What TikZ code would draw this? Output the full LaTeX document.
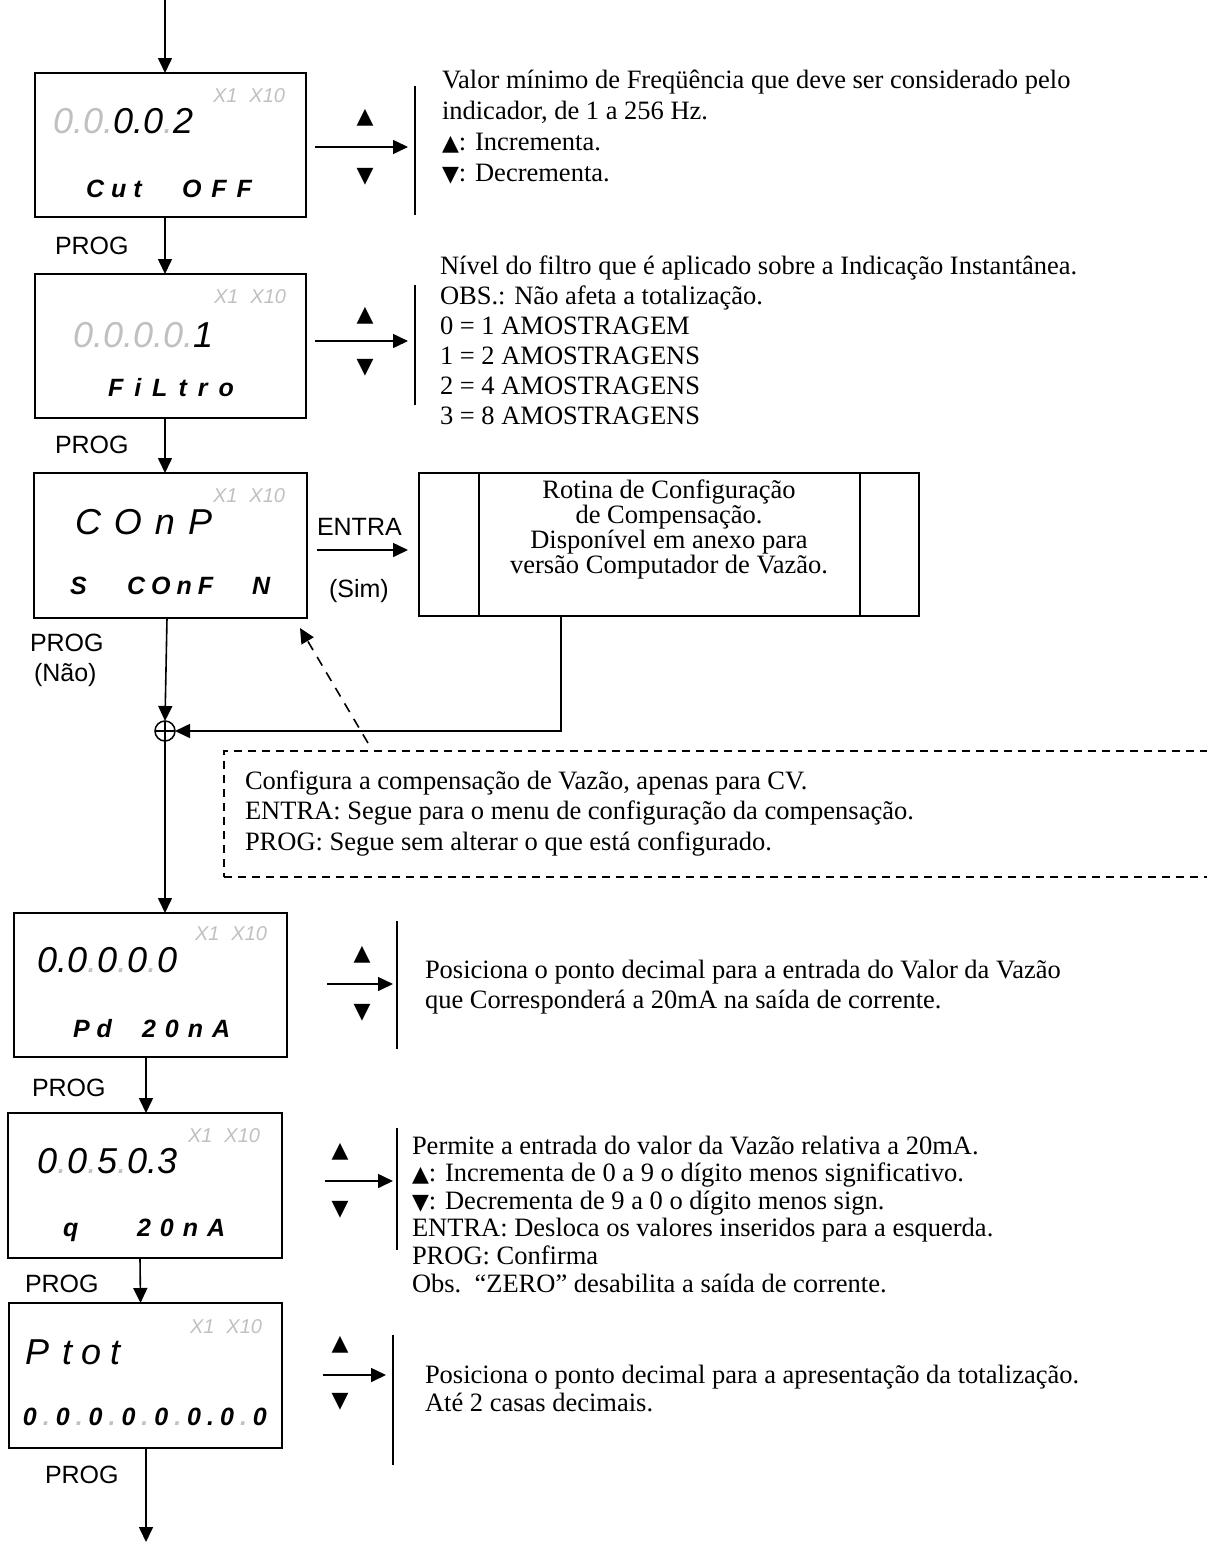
\documentclass[tikz,border=0pt]{standalone}
\usepackage{fontspec}
\setmainfont{Liberation Serif}
\setsansfont{Liberation Sans}
\newfontfamily\symf{DejaVu Sans}
\usetikzlibrary{arrows.meta}
\definecolor{lcdgray}{RGB}{192,192,192}
% letter spacing on the display texts
\newcommand\lsp[1][7]{\kern#1pt\relax}
% unlit decimal point
\newcommand\gd{\textcolor{lcdgray}{.}}
% small key triangles inside the notes
\newcommand\up{{\symf\fontsize{22}{22}\selectfont ▲}}
\newcommand\dn{{\symf\fontsize{22}{22}\selectfont ▼}}

\begin{document}
\begin{tikzpicture}[x=1pt,y=-1pt,
  every node/.style={inner sep=0pt, outer sep=0pt},
  lcdbox/.style={draw, line width=2pt, rectangle},
  subbox/.style={draw, line width=1.6pt, rectangle},
  arr/.style={line width=1.6pt, -{Triangle[length=15pt,width=14pt]}},
  wire/.style={line width=1.6pt},
  seg/.style={font=\sffamily\itshape\fontsize{36}{36}\selectfont, anchor=base west},
  mult/.style={font=\sffamily\itshape\fontsize{20}{20}\selectfont, text=lcdgray, anchor=base west},
  lbl/.style={font=\sffamily\bfseries\itshape\fontsize{25}{25}\selectfont, anchor=base west},
  key/.style={font=\sffamily\fontsize{25}{25}\selectfont, anchor=base west},
  note/.style={font=\fontsize{26.5}{#1}\selectfont, anchor=base west, align=left},
  tri/.style={font=\symf\fontsize{22}{22}\selectfont}]

\useasboundingbox (0,0) rectangle (1207,1542);
\clip (0,0) rectangle (1207,1542);

% ---------- display boxes ----------
\node[lcdbox, minimum width=271pt, minimum height=144pt] (b1) at (170,145) {};
\node[lcdbox, minimum width=271pt, minimum height=144pt] (b2) at (170,346) {};
\node[lcdbox, minimum width=273pt, minimum height=145pt] (b3) at (170.5,545.5) {};
\node[lcdbox, minimum width=273pt, minimum height=144pt] (b4) at (150.5,985) {};
\node[lcdbox, minimum width=274pt, minimum height=145pt] (b5) at (145,1185.5) {};
\node[lcdbox, minimum width=273pt, minimum height=145pt] (b6) at (145.5,1375.5) {};

% display contents
\node[seg] (d1) at (53,133) {\textcolor{lcdgray}{0.0.}0.0\gd 2};
\node[mult] (m1) at (213,102) {X1\kern12pt X10};
\node[lbl] (l1a) at (86,197) {C\lsp u\lsp t};
\node[lbl] (l1b) at (182,197) {O\lsp[10]F\lsp[10]F};

\node[seg] (d2) at (73,347) {\textcolor{lcdgray}{0.0.0.0.}1};
\node[mult] (m2) at (214,303) {X1\kern12pt X10};
\node[lbl] (l2) at (108,396) {F\lsp[11]i\lsp[11]L\lsp[11]t\lsp[11]r\lsp[11]o};

\node[seg] (d3) at (75,534) {C\lsp[13]O\lsp[13]n\lsp[13]P};
\node[mult] (m3) at (213,502) {X1\kern12pt X10};
\node[lbl] (l3a) at (70,594) {S};
\node[lbl] (l3b) at (127,594) {C\lsp[6]O\lsp[6]n\lsp[6]F};
\node[lbl] (l3c) at (252,594) {N};

\node[seg] (d4) at (37,972) {0.0\gd 0\gd 0\gd 0};
\node[mult] (m4) at (195,940) {X1\kern12pt X10};
\node[lbl] (l4a) at (73,1037) {P\lsp d};
\node[lbl] (l4b) at (142,1037) {2\lsp[9]0\lsp[9]n\lsp[9]A};

\node[seg] (d5) at (37,1173) {0\gd 0\gd 5\gd 0.3};
\node[mult] (m5) at (188,1142) {X1\kern12pt X10};
\node[lbl] (l5a) at (63,1236) {q};
\node[lbl] (l5b) at (137,1236) {2\lsp[9]0\lsp[9]n\lsp[9]A};

\node[seg] (d6) at (25,1364) {P\lsp[13]t\lsp[9]o\lsp[9]t};
\node[mult] (m6) at (190,1333) {X1\kern12pt X10};
\node[lbl] (l6) at (23,1425) {0\lsp[6]\gd\lsp[6]0\lsp[6]\gd\lsp[6]0\lsp[6]\gd\lsp[6]0\lsp[6]\gd\lsp[6]0\lsp[6]\gd\lsp[6]0\lsp[6].\lsp[6]0\lsp[6]\gd\lsp[6]0};

% ---------- compensation routine box ----------
\node[subbox, minimum width=500pt, minimum height=143pt] (sub) at (669,544.5) {};
\draw[wire] ([xshift=60pt]sub.north west) -- ([xshift=60pt]sub.south west);
\draw[wire] ([xshift=-59pt]sub.north east) -- ([xshift=-59pt]sub.south east);
\node[font=\fontsize{26.5}{25}\selectfont, align=center] (subtxt) at (669,529)
  {Rotina de Configuração\\de Compensação.\\Disponível em anexo para\\versão Computador de Vazão.};

% ---------- key labels ----------
\node[key] (p1) at (55,254) {PROG};
\node[key] (p2) at (55,453) {PROG};
\node[key] (p3) at (30,651) {PROG};
\node[key] (p3n) at (34,681) {(Não)};
\node[key] (en) at (317,535) {ENTRA};
\node[key] (sim) at (329,597) {(Sim)};
\node[key] (p4) at (32,1096) {PROG};
\node[key] (p5) at (25,1292) {PROG};
\node[key] (p6) at (45,1483) {PROG};

% ---------- main flow ----------
\coordinate (start) at (165,0);
\coordinate (finish) at (146,1542);
\node[draw, circle, line width=1.5pt, minimum size=20pt] (sum) at (165,731) {};
\draw[line width=1.2pt] (sum.north) -- (sum.south) (sum.west) -- (sum.east);

\draw[arr] (start) -- ([xshift=-5pt]b1.north);
\draw[arr] ([xshift=-5pt]b1.south) -- ([xshift=-5pt]b2.north);
\draw[arr] ([xshift=-5pt]b2.south) -- ([xshift=-5.5pt]b3.north);
\draw[arr] ([xshift=-3.5pt]b3.south) -- (sum.north);
\draw[arr] ([xshift=-108pt]sub.south) |- (sum.east);
\draw[arr] (sum.south) -- ([xshift=14.5pt]b4.north);
\draw[arr] ([xshift=-4.5pt]b4.south) -- ([xshift=1pt]b5.north);
\draw[arr] ([xshift=-5pt]b5.south) -- ([xshift=-5pt]b6.north);
\draw[arr] ([xshift=0.5pt]b6.south) -- (finish);

\coordinate (ea) at (317,550); \coordinate (eb) at (408,550);
\draw[arr] (ea) -- (eb);

% ---------- up/down keys and side notes ----------
% row 1
\node[tri] (u1) at (365,118) {▲};
\node[tri] (w1) at (365,177) {▼};
\coordinate (a1s) at (315,147); \coordinate (a1e) at (408,147);
\draw[arr] (a1s) -- (a1e);
\coordinate (v1t) at (415,86); \coordinate (v1b) at (415,215);
\draw[wire] (v1t) -- (v1b);
\node[note=31] (n1) at (442,181) {Valor mínimo de Freqüência que deve ser considerado pelo\\indicador, de 1 a 256 Hz.\\\up: Incrementa.\\\dn: Decrementa.};

% row 2
\node[tri] (u2) at (365,316) {▲};
\node[tri] (w2) at (365,368) {▼};
\coordinate (a2s) at (315,341); \coordinate (a2e) at (408,341);
\draw[arr] (a2s) -- (a2e);
\coordinate (v2t) at (415,285); \coordinate (v2b) at (415,405);
\draw[wire] (v2t) -- (v2b);
\node[note=30] (n2) at (440,424) {Nível do filtro que é aplicado sobre a Indicação Instantânea.\\OBS.: Não afeta a totalização.\\0 = 1 AMOSTRAGEM\\1 = 2 AMOSTRAGENS\\2 = 4 AMOSTRAGENS\\3 = 8 AMOSTRAGENS};

% dashed remark on the compensation choice
\node[draw, line width=1.6pt, dash pattern=on 8pt off 6pt, minimum width=1010pt, minimum height=126pt] (rem) at (729,814) {};
\draw[line width=1.6pt, dash pattern=on 10pt off 8pt, -{Triangle[length=15pt,width=14pt]}]
  ([xshift=144pt,yshift=8pt]rem.north west) -- ([xshift=-7pt,yshift=-10pt]b3.south east);
\node[note=30.5] (n3) at (245,850) {Configura a compensação de Vazão, apenas para CV.\\ENTRA: Segue para o menu de configuração da compensação.\\PROG: Segue sem alterar o que está configurado.};

% row 4
\node[tri] (u4) at (362,955) {▲};
\node[tri] (w4) at (362,1013) {▼};
\coordinate (a4s) at (327,984); \coordinate (a4e) at (393,984);
\draw[arr] (a4s) -- (a4e);
\coordinate (v4t) at (397,921); \coordinate (v4b) at (397,1049);
\draw[wire] (v4t) -- (v4b);
\node[note=30] (n4) at (425,1008) {Posiciona o ponto decimal para a entrada do Valor da Vazão\\que Corresponderá a 20mA na saída de corrente.};

% row 5
\node[tri] (u5) at (340,1152) {▲};
\node[tri] (w5) at (340,1210) {▼};
\coordinate (a5s) at (325,1181); \coordinate (a5e) at (393,1181);
\draw[arr] (a5s) -- (a5e);
\coordinate (v5t) at (397,1128); \coordinate (v5b) at (397,1250);
\draw[wire] (v5t) -- (v5b);
\node[note=27.6] (n5) at (412,1292) {Permite a entrada do valor da Vazão relativa a 20mA.\\\up: Incrementa de 0 a 9 o dígito menos significativo.\\\dn: Decrementa de 9 a 0 o dígito menos sign.\\ENTRA: Desloca os valores inseridos para a esquerda.\\PROG: Confirma\\Obs.~~“ZERO” desabilita a saída de corrente.};

% row 6
\node[tri] (u6) at (340,1345) {▲};
\node[tri] (w6) at (340,1402) {▼};
\coordinate (a6s) at (323,1375); \coordinate (a6e) at (386,1375);
\draw[arr] (a6s) -- (a6e);
\coordinate (v6t) at (393,1335); \coordinate (v6b) at (393,1465);
\draw[wire] (v6t) -- (v6b);
\node[note=28] (n6) at (425,1411) {Posiciona o ponto decimal para a apresentação da totalização.\\Até 2 casas decimais.};

\end{tikzpicture}
\end{document}
